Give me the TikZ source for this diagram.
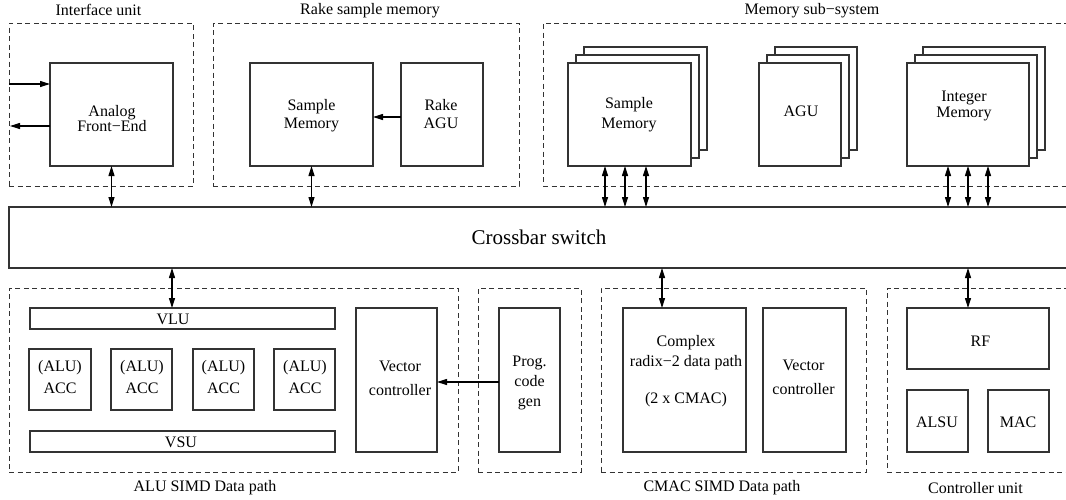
\documentclass[tikz,border=0pt]{standalone}
\usepackage{fontspec}
\setmainfont{Liberation Serif}
\usetikzlibrary{arrows.meta,calc}
\definecolor{lc}{gray}{0.2}
\begin{document}
\begin{tikzpicture}[x=1pt,y=-1pt,
  bx/.style={draw=lc, line width=1.2pt, fill=white, inner sep=0pt, outer sep=0pt},
  grp/.style={draw=lc, line width=0.8pt, dash pattern=on 5pt off 3.5pt, inner sep=0pt, outer sep=0pt},
  txt/.style={align=center, inner sep=0pt, font=\fontsize{16}{18}\selectfont},
  lbl/.style={inner sep=0pt, font=\fontsize{16}{18}\selectfont},
  dbl/.style={draw=black, line width=1.1pt, {Triangle[length=10pt,width=6pt]}-{Triangle[length=10pt,width=6pt]}},
  sgl/.style={draw=black, line width=1.1pt, -{Triangle[length=10pt,width=6pt]}}]
\useasboundingbox (0,0) rectangle (1066,499);
\clip (0,0) rectangle (1066,499);

% ---------- group frames ----------
\node[grp, minimum width=184, minimum height=163] (gif) at (101,104.5) {};
\node[grp, minimum width=306, minimum height=163] (grk) at (366,104.5) {};
\node[grp, minimum width=547, minimum height=163] (gms) at (816.5,104.5) {};
\node[grp, minimum width=449, minimum height=184] (galu) at (233.5,380) {};
\node[grp, minimum width=103, minimum height=184] (gpr) at (529.5,380) {};
\node[grp, minimum width=265, minimum height=184] (gcm) at (733.5,380) {};
\node[grp, minimum width=203, minimum height=184] (gct) at (988.5,380) {};

% ---------- group labels ----------
\node[lbl] (lif) at (98.5,10) {Interface unit};
\node[lbl] (lrk) at (370,11) {Rake sample memory};
\node[lbl] (lms) at (812,11) {Memory sub−system};
\node[lbl] (lalu) at (205,488) {ALU SIMD Data path};
\node[lbl] (lcm) at (722,488) {CMAC SIMD Data path};
\node[lbl] (lct) at (975.5,488) {Controller unit};

% ---------- top row ----------
\node[bx, minimum width=123, minimum height=103] (afe) at (111.5,114.5) {};
\node[txt, font=\fontsize{16}{15}\selectfont] (afet) at (112,119) {Analog\\Front−End};

\node[bx, minimum width=123, minimum height=103] (rsm) at (311.5,114.5) {};
\node[txt] (rsmt) at (311.5,116) {Sample\\Memory};
\node[bx, minimum width=82, minimum height=103] (ragu) at (442,114.5) {};
\node[txt] (ragut) at (441,114.5) {Rake\\AGU};

% memory sub-system stacks
\foreach \o in {16,8} {
  \node[bx, minimum width=123, minimum height=103] at (629.5+\o,114.5-\o) {};
  \node[bx, minimum width=82, minimum height=103] at (800+\o,114.5-\o) {};
  \node[bx, minimum width=122, minimum height=103] at (968+\o,114.5-\o) {};
}
\node[bx, minimum width=123, minimum height=103] (msm) at (629.5,114.5) {};
\node[txt, font=\fontsize{16}{20}\selectfont] (msmt) at (629,115) {Sample\\Memory};
\node[bx, minimum width=82, minimum height=103] (magu) at (800,114.5) {};
\node[txt] (magut) at (801,111.5) {AGU};
\node[bx, minimum width=122, minimum height=103] (imem) at (968,114.5) {};
\node[txt, font=\fontsize{16}{16}\selectfont] (imemt) at (964,106) {Integer\\Memory};

% ---------- crossbar ----------
\node[bx, minimum width=1081, minimum height=61] (xbar) at (549.5,237.5) {};
\node[lbl, font=\fontsize{21}{24}\selectfont] (xbart) at (539,237) {Crossbar switch};

% ---------- ALU SIMD ----------
\node[bx, minimum width=305, minimum height=21] (vlu) at (182.5,318.5) {};
\node[txt] (vlut) at (173,319) {VLU};
\node[bx, minimum width=305, minimum height=21] (vsu) at (182.5,441.5) {};
\node[txt] (vsut) at (181,442.5) {VSU};
\node[bx, minimum width=62, minimum height=61] (acc1) at (60,379.5) {};
\node[bx, minimum width=61, minimum height=61] (acc2) at (141.5,379.5) {};
\node[bx, minimum width=61, minimum height=61] (acc3) at (223.5,379.5) {};
\node[bx, minimum width=61, minimum height=61] (acc4) at (304.5,379.5) {};
\node[txt, font=\fontsize{16}{22}\selectfont] (acc1t) at (60,377.5) {(ALU)\\ACC};
\node[txt, font=\fontsize{16}{22}\selectfont] (acc2t) at (142,377.5) {(ALU)\\ACC};
\node[txt, font=\fontsize{16}{22}\selectfont] (acc3t) at (223.5,377.5) {(ALU)\\ACC};
\node[txt, font=\fontsize{16}{22}\selectfont] (acc4t) at (305,377.5) {(ALU)\\ACC};
\node[bx, minimum width=81, minimum height=144] (vc1) at (396.5,380) {};
\node[txt, font=\fontsize{16}{24}\selectfont] (vc1t) at (400,378) {Vector\\controller};

% ---------- program code generator ----------
\node[bx, minimum width=61, minimum height=144] (pcg) at (529.5,380) {};
\node[txt, font=\fontsize{16}{20}\selectfont] (pcgt) at (529.5,382.5) {Prog.\\code\\gen};

% ---------- CMAC SIMD ----------
\node[bx, minimum width=123, minimum height=144] (cplx) at (684.5,380) {};
\node[txt, font=\fontsize{16}{20}\selectfont] (cplxt) at (686,371.5) {Complex\\radix−2 data path\\[17pt](2 x CMAC)};
\node[bx, minimum width=83, minimum height=144] (vc2) at (804.5,380) {};
\node[txt, font=\fontsize{16}{24}\selectfont] (vc2t) at (803.5,377) {Vector\\controller};

% ---------- controller unit ----------
\node[bx, minimum width=142, minimum height=61] (rf) at (978,338.5) {};
\node[txt] (rft) at (980.5,341) {RF};
\node[bx, minimum width=61, minimum height=62] (alsu) at (937.5,421) {};
\node[txt] (alsut) at (937,422) {ALSU};
\node[bx, minimum width=61, minimum height=62] (mac) at (1018.5,421) {};
\node[txt] (mact) at (1018,422) {MAC};

% ---------- connectors ----------
\coordinate (inL) at (9,84);
\coordinate (outL) at (10,126);
\draw[sgl] (inL) -- (inL -| afe.west);
\draw[sgl] (outL -| afe.west) -- (outL);
\draw[sgl] ($(ragu.west)+(0,2.5)$) -- ($(rsm.east)+(0,2.5)$);
\draw[sgl] ($(pcg.west)+(0,2)$) -- ($(vc1.east)+(0,2)$);

\draw[dbl] (afe.south) -- (afe.south |- xbar.north);
\draw[dbl] (rsm.south) -- (rsm.south |- xbar.north);
\foreach \d in {-24.5,-4.5,16.5}
  \draw[dbl] ($(msm.south)+(\d,0)$) -- ($(msm.south |- xbar.north)+(\d,0)$);
\foreach \d in {-20,0,20}
  \draw[dbl] ($(imem.south)+(\d,0)$) -- ($(imem.south |- xbar.north)+(\d,0)$);

\draw[dbl] ($(vlu.north |- xbar.south)+(-10.5,0)$) -- ($(vlu.north)+(-10.5,0)$);
\draw[dbl] ($(cplx.north |- xbar.south)+(-22.5,0)$) -- ($(cplx.north)+(-22.5,0)$);
\draw[dbl] ($(rf.north |- xbar.south)+(-10,0)$) -- ($(rf.north)+(-10,0)$);
\end{tikzpicture}
\end{document}
